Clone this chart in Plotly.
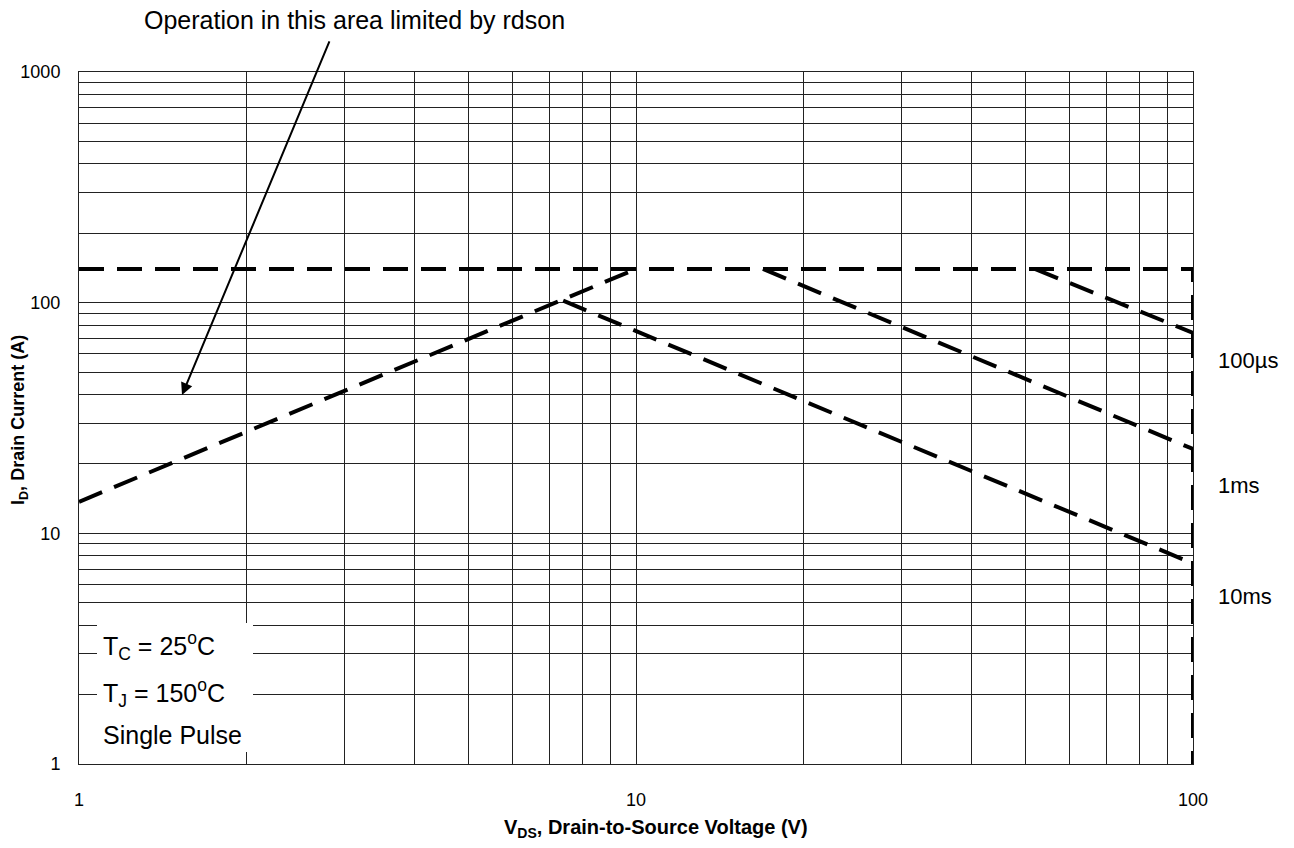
import plotly.graph_objects as go

# ---- data ----
limit_v = [1, 100, 100]          # package / pulse limit, then BVdss at 100 V
limit_i = [140, 140, 1]
rdson_v = [1, 10]                # rds(on) limited boundary
rdson_i = [13.7, 140]
ms10_v = [7.4, 100]
ms10_i = [102, 7.4]
ms1_v = [16.9, 100]
ms1_i = [140, 23.2]
us100_v = [52, 100]
us100_i = [140, 74]

x_ticks = [1, 10, 100]
x_labels = ["1", "10", "100"]
x_minor = [2, 3, 4, 5, 6, 7, 8, 9, 20, 30, 40, 50, 60, 70, 80, 90]
y_ticks = [1, 10, 100, 1000]
y_labels = ["1", "10", "100", "1000"]
y_minor = [2, 3, 4, 5, 6, 7, 8, 9, 20, 30, 40, 50, 60, 70, 80, 90,
           200, 300, 400, 500, 600, 700, 800, 900]

W, H = 1294, 848
PL, PT, PR, PB = 79, 72, 1193, 764       # plot area in reference pixels
L, T = PL, PT
R, B = W - PR, H - PB
PW, PH = PR - PL, PB - PT


def px(x):
    return (x - PL) / PW


def py(y):
    return (PB - y) / PH


FONT = "Liberation Sans, Arial, sans-serif"
dash = "25px,13px"
lw = 4
GRID = "#222"

fig = go.Figure()
for xs, ys in [(limit_v, limit_i), (rdson_v, rdson_i), (ms10_v, ms10_i),
               (ms1_v, ms1_i), (us100_v, us100_i)]:
    fig.add_trace(go.Scatter(x=xs, y=ys, mode="lines",
                             line=dict(color="black", width=lw, dash=dash),
                             showlegend=False, hoverinfo="skip"))

axis_common = dict(type="log", showgrid=True, gridcolor=GRID, gridwidth=1,
                   showline=True, linecolor=GRID, linewidth=1, mirror=True,
                   ticks="", zeroline=False, automargin=False,
                   tickfont=dict(family=FONT, size=18, color="black"))

fig.update_xaxes(range=[0, 2], tickvals=x_ticks, ticktext=x_labels,
                 minor=dict(tickvals=x_minor, showgrid=True, gridcolor=GRID,
                            gridwidth=1, ticks=""),
                 ticklabelstandoff=19, **axis_common)
fig.update_yaxes(range=[0, 3], tickvals=y_ticks, ticktext=y_labels,
                 minor=dict(tickvals=y_minor, showgrid=True, gridcolor=GRID,
                            gridwidth=1, ticks=""),
                 ticklabelstandoff=14, **axis_common)

shapes = [dict(type="rect", xref="paper", yref="paper",
               x0=px(97), x1=px(253), y0=py(752), y1=py(623),
               fillcolor="white", line=dict(width=0), layer="above")]

ann = []
# condition box text
for txt, yy in [("T<sub>C</sub> = 25<sup>o</sup>C", 646),
                ("T<sub>J</sub> = 150<sup>o</sup>C", 693),
                ("Single Pulse", 735)]:
    ann.append(dict(text=txt, xref="paper", yref="paper", x=px(101), y=py(yy),
                    xanchor="left", yanchor="middle", showarrow=False,
                    font=dict(family=FONT, size=25, color="black")))
# curve labels
for txt, yy in [("100µs", 360), ("1ms", 485), ("10ms", 596)]:
    ann.append(dict(text=txt, xref="paper", yref="paper", x=px(1216), y=py(yy),
                    xanchor="left", yanchor="middle", showarrow=False,
                    font=dict(family=FONT, size=22, color="black")))
# rdson note with arrow
ann.append(dict(text="", x=0.185, y=1.6, xref="x", yref="y",
                showarrow=True, ax=148, ay=-355, axref="pixel", ayref="pixel",
                arrowhead=2, arrowsize=1.2, arrowwidth=2, arrowcolor="black"))
ann.append(dict(text="Operation in this area limited by rdson", xref="paper",
                yref="paper", x=px(354), y=py(20), xanchor="center",
                yanchor="middle", showarrow=False,
                font=dict(family=FONT, size=25, color="black")))
# axis titles
ann.append(dict(text="<b>V<sub>DS</sub>, Drain-to-Source Voltage (V)</b>",
                xref="paper", yref="paper", x=px(656), y=py(829),
                xanchor="center", yanchor="middle", showarrow=False,
                font=dict(family=FONT, size=20, color="black")))
ann.append(dict(text="<b>I<sub>D</sub>, Drain Current (A)</b>",
                xref="paper", yref="paper", x=px(19), y=py(420),
                xanchor="center", yanchor="middle", showarrow=False, textangle=-90,
                font=dict(family=FONT, size=18, color="black")))

fig.update_layout(width=W, height=H, autosize=False,
                  margin=dict(l=L, r=R, t=T, b=B),
                  plot_bgcolor="white", paper_bgcolor="white",
                  shapes=shapes, annotations=ann)

fig.write_html("out.html", config={"displayModeBar": False},
               post_script="document.body.style.margin='0';"
                           "document.body.style.overflow='hidden';")
